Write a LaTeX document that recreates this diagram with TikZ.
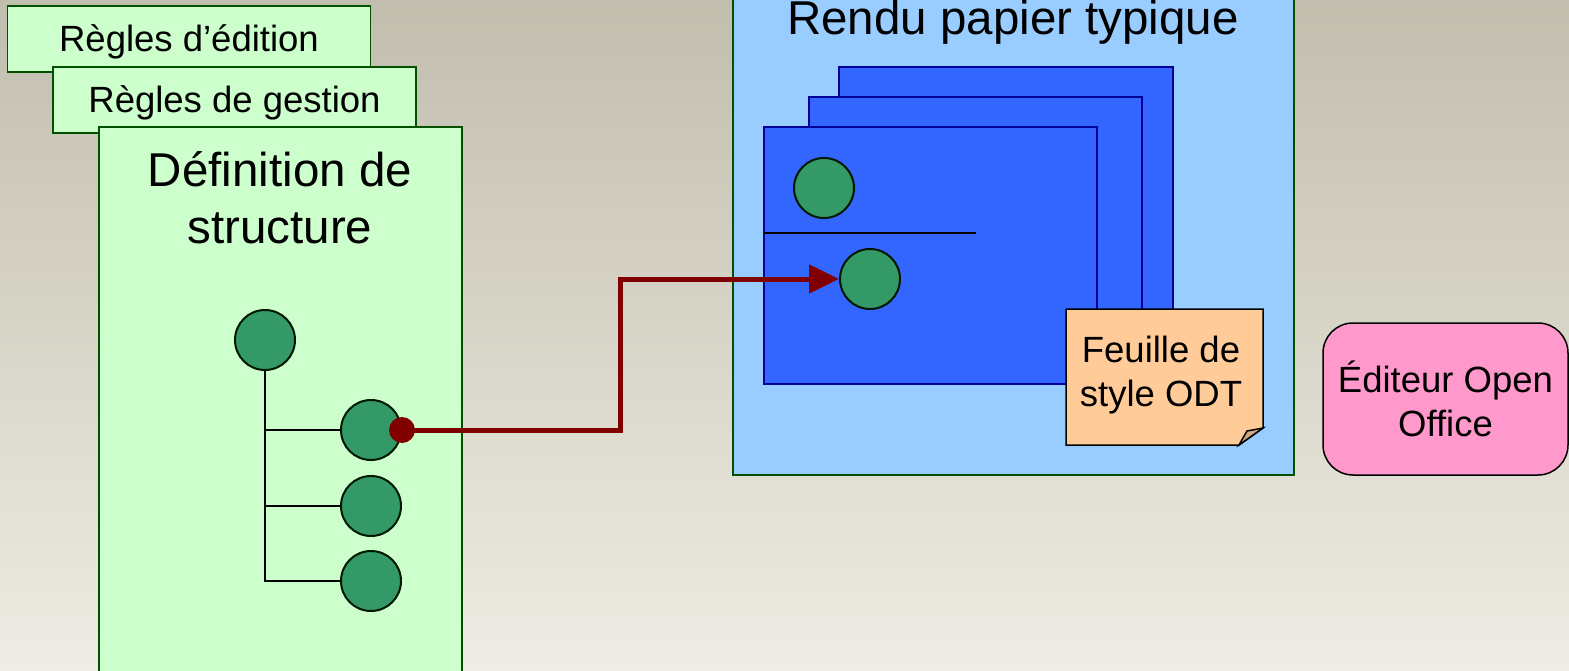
\documentclass[tikz,border=0pt]{standalone}
\usepackage{fontspec}
\setmainfont{Liberation Sans}
\usetikzlibrary{arrows.meta}

\definecolor{fondA}{RGB}{194,190,174}
\definecolor{fondB}{RGB}{238,236,228}
\definecolor{vertclair}{RGB}{204,255,204}
\definecolor{vertfonce}{RGB}{0,80,0}
\definecolor{bleuclair}{RGB}{153,204,255}
\definecolor{bleupage}{RGB}{51,102,255}
\definecolor{bleufonce}{RGB}{0,0,153}
\definecolor{vertbulle}{RGB}{51,153,102}
\definecolor{orangeclair}{RGB}{255,204,153}
\definecolor{orangepli}{RGB}{205,170,130}
\definecolor{rose}{RGB}{255,153,204}
\definecolor{rougefonce}{RGB}{128,0,0}

\begin{document}
\begin{tikzpicture}[x=1pt,y=-1pt,line width=1.5pt,
    grand/.style={font=\fontsize{47.5pt}{57pt}\selectfont},
    petit/.style={font=\fontsize{36.5pt}{44pt}\selectfont},
    regle/.style={draw=vertfonce,fill=vertclair,petit,text height=34pt,text depth=8pt,minimum width=363pt,minimum height=66pt,inner sep=0pt},
    bulle/.style={circle,draw=black!70!vertfonce,line width=2pt,fill=vertbulle,minimum size=60pt,inner sep=0pt},
    page/.style={draw=bleufonce,fill=bleupage}]
    % fond (background)
    \useasboundingbox (0,0) rectangle (1569,671);
    \shade[top color=fondA,bottom color=fondB] (0,0) rectangle (1569,671);

    % les trois fiches (rule sheets)
    \node[regle] (edition) at (189,39) {Règles d’édition};
    \node[regle] (gestion) at (234.5,100) {Règles de gestion};
    \filldraw[draw=vertfonce,fill=vertclair] (99,127) rectangle (462,700);
    \node[grand,align=center] (definition) at (280,198) {Définition de\\structure};

    % arbre de structure (structure tree)
    \node[bulle] (racine) at (265,340) {};
    \node[bulle] (fils1) at (371,430) {};
    \node[bulle] (fils2) at (371,506) {};
    \node[bulle] (fils3) at (371,581) {};
    \draw[line width=2pt] (racine.south) |- (fils3.west);
    \draw[line width=2pt] (racine.south |- fils1.west) -- (fils1.west);
    \draw[line width=2pt] (racine.south |- fils2.west) -- (fils2.west);

    % rendu papier (paper output)
    \filldraw[draw=vertfonce,fill=bleuclair] (733,-10) rectangle (1294,475);
    \node[grand,anchor=base] (rendu) at (1013,35) {Rendu papier typique};
    \filldraw[page] (839,67) rectangle (1173,324);
    \filldraw[page] (809,97) rectangle (1142,354);
    \filldraw[page] (764,127) rectangle (1097,384);
    \draw[line width=2pt] (764,233) -- (976,233); % trait de séparation
    \node[bulle] (titre) at (824,188) {};
    \node[bulle] (champ) at (870,279) {};

    % feuille de style (style sheet note)
    \filldraw[draw=black,fill=orangeclair] (1066,309) -- (1263,309) -- (1263,428) -- (1239,445) -- (1066,445) -- cycle;
    \filldraw[draw=black,fill=orangepli] (1263,428) -- (1239,445) -- (1247,431) -- cycle;
    \node[petit,align=center] (feuille) at (1161,375) {Feuille de\\style ODT};

    % éditeur (editor)
    \node[draw=black,fill=rose,rounded corners=30pt,minimum width=245pt,minimum height=152pt,petit,align=center] (editeur) at (1445.5,399) {Éditeur Open\\Office};

    % lien (link)
    \coordinate (coude) at (620,430);
    \draw[rougefonce,line width=5pt,-{Triangle[length=30pt,width=28pt]}] (fils1.east) -- (coude) |- (champ.west);
    \fill[rougefonce] (fils1.east) circle (13pt);

\end{tikzpicture}
\end{document}
